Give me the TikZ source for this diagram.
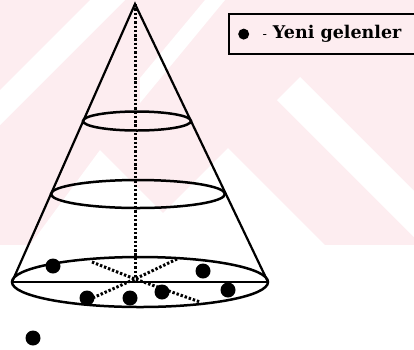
\documentclass[tikz,border=0pt]{standalone}
\usepackage{xcolor}
\usepackage{fontspec}
\setmainfont{Liberation Serif}
\newfontfamily\legendfont{DejaVu Serif}
\usepackage{tikz}
\usetikzlibrary{positioning}

\definecolor{wmpink}{RGB}{253,237,240}

\begin{document}
\begin{tikzpicture}[
    x=1pt, y=-1pt,
    coneline/.style={black, line width=2.2pt},
    ringline/.style={black, line width=2.5pt},
    axisdots/.style={black, line width=3pt, dash pattern=on 2.4pt off 1.9pt},
    newdot/.style={circle, fill=black, inner sep=0pt, minimum size=15pt},
    legendbox/.style={draw, line width=2.2pt, inner sep=0pt, minimum width=188pt, minimum height=40pt, anchor=north west},
    legendtext/.style={font=\legendfont\fontsize{17.5}{20}\selectfont\bfseries, inner sep=0pt}
]

\useasboundingbox (0,0) rectangle (414,349);

% 背景水印（浅粉色斜条）
\fill[wmpink] (0,0) rectangle (414,245);
\fill[white] (0,90) -- (90,0) -- (125,0) -- (0,125) -- cycle;
\fill[white] (140,78) -- (205,0) -- (225,0) -- (140,103) -- cycle;
\fill[white] (277,100) -- (300,77) -- (414,191) -- (414,237) -- cycle;
\fill[white] (228,148) -- (325,245) -- (131,245) -- cycle;
\fill[white] (100,150) -- (195,245) -- (30,245) -- cycle;

% 圆锥参数
\coordinate (apex) at (135,4);
\coordinate (bl)   at (12,282);
\coordinate (br)   at (268,282);
\coordinate (ctr)  at (135,279);

% 侧边
\draw[coneline] (bl) -- (apex) -- (br);

% 三个截面椭圆
\draw[ringline] (137,121) ellipse [x radius=54, y radius=9.5];
\draw[ringline] (138,194) ellipse [x radius=87, y radius=14];
\draw[ringline] (140,282) ellipse [x radius=128, y radius=25];
\draw[ringline] (bl) -- (br);

% 虚线轴与底面对角线
\coordinate (ul) at (92,262);
\coordinate (lr) at (200,302);
\coordinate (ur) at (177,259);
\coordinate (ll) at (88,300);
\draw[axisdots] (apex) -- (ctr);
\draw[axisdots] (ul) -- (ctr) -- (lr);
\draw[axisdots] (ur) -- (ctr) -- (ll);

% 新来者（黑点）
\node[newdot] (d1) at (53,266)  {};
\node[newdot] (d2) at (203,271) {};
\node[newdot] (d3) at (228,290) {};
\node[newdot] (d4) at (87,298)  {};
\node[newdot] (d5) at (130,298) {};
\node[newdot] (d6) at (162,292) {};
\node[newdot] (d7) at (33,338)  {};

% 图例
\node[legendbox] (lgbox) at (228,13) {};
\node[newdot, minimum size=11pt, right=10pt of lgbox.west] (lgdot) {};
\node[legendtext, right=13pt of lgdot] (lgtext) {{\mdseries\fontsize{13}{14}\selectfont -}\hspace{6pt}Yeni gelenler};

\end{tikzpicture}
\end{document}
